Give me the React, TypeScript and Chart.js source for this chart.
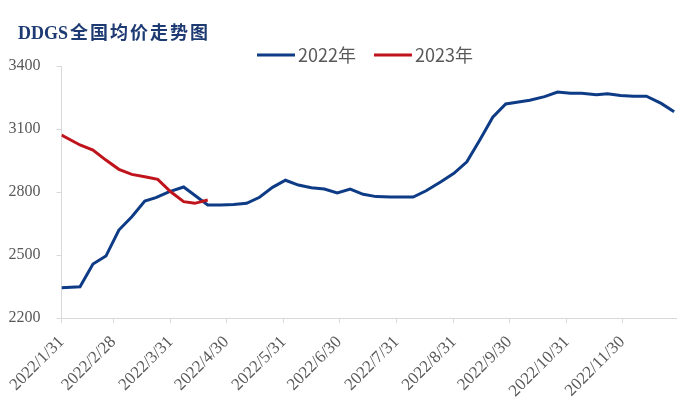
import React, { useEffect, useRef } from "react";
import { Chart, registerables } from "chart.js";

Chart.register(...registerables);

const TITLE = "DDGS全国均价走势图";
const seriesNames = ["2022年", "2023年"];
const seriesColors = ["#0E3B86", "#C0141C"];

// x = days after 2022/1/31 (2023 series aligned on the same calendar days)
const tickDays = [0, 28, 59, 89, 120, 150, 181, 212, 242, 273, 303];
const tickLabels = [
  "2022/1/31", "2022/2/28", "2022/3/31", "2022/4/30", "2022/5/31", "2022/6/30",
  "2022/7/31", "2022/8/31", "2022/9/30", "2022/10/31", "2022/11/30",
];

const days2022 = [
  0, 10, 17, 24, 31, 38, 45, 51, 58, 66,
  79, 86, 93, 100, 107, 114, 121, 128, 135, 142,
  149, 156, 163, 170, 178, 190, 197, 205, 212, 219,
  226, 233, 240, 246, 253, 261, 268, 275, 281, 289,
  295, 302, 309, 316, 324, 331,
];
const values2022 = [
  2344, 2349, 2457, 2495, 2619, 2682, 2757, 2773, 2801, 2824,
  2738, 2738, 2741, 2746, 2775, 2822, 2856, 2833, 2820, 2814,
  2795, 2814, 2789, 2778, 2776, 2776, 2806, 2849, 2889, 2944,
  3048, 3156, 3219, 3227, 3237, 3254, 3276, 3270, 3270, 3263,
  3268, 3260, 3256, 3256, 3222, 3182,
];

const days2023 = [0, 10, 17, 24, 31, 38, 45, 52, 59, 66, 72, 79];
const values2023 = [3071, 3024, 3000, 2952, 2908, 2884, 2873, 2860, 2801, 2754, 2746, 2762];

const yMin = 2200;
const yMax = 3400;
const yStep = 300;
const xMax = 332;

const SERIF = "'Times New Roman', 'Liberation Serif', serif";
const SANS = "'Microsoft YaHei', 'Noto Sans CJK SC', sans-serif";

const overlay = {
  id: "overlay",
  afterDraw(chart: any) {
    const ctx = chart.ctx;
    ctx.save();
    // title: latin part tight, CJK part with a little tracking
    ctx.font = `bold 18px 'Times New Roman', 'Liberation Serif', 'Noto Sans CJK SC', serif`;
    ctx.fillStyle = "#1E3A72";
    ctx.textAlign = "left";
    ctx.textBaseline = "alphabetic";
    const m = TITLE.match(/^([A-Za-z0-9]*)(.*)$/) || ["", "", TITLE];
    const latin = m[1];
    const rest = m[2];
    ctx.fillText(latin, 18, 39);
    const lw = ctx.measureText(latin).width;
    (ctx as any).letterSpacing = "2px";
    ctx.fillText(rest, 18 + lw + 2, 39);
    (ctx as any).letterSpacing = "0px";
    // legend
    ctx.font = `18px ${SANS}`;
    ctx.textBaseline = "middle";
    let x = 257;
    const y = 55;
    chart.data.datasets.forEach((ds: any) => {
      ctx.strokeStyle = ds.borderColor;
      ctx.lineWidth = 3;
      ctx.beginPath();
      ctx.moveTo(x, y);
      ctx.lineTo(x + 38, y);
      ctx.stroke();
      x += 41;
      ctx.fillStyle = "#595959";
      ctx.fillText(ds.label, x, y);
      x += ctx.measureText(ds.label).width + 18;
    });
    ctx.restore();
  },
};

export default function App() {
  const ref = useRef<HTMLCanvasElement>(null);
  useEffect(() => {
    document.body.style.margin = "0";
    const c = ref.current;
    if (!c) return;
    const chart = new Chart(c, {
      type: "line",
      data: {
        datasets: [
          {
            label: seriesNames[0],
            data: days2022.map((d, i) => ({ x: d, y: values2022[i] })),
            borderColor: seriesColors[0],
            backgroundColor: seriesColors[0],
            borderWidth: 3,
            pointRadius: 0,
            tension: 0,
            order: 1,
          },
          {
            label: seriesNames[1],
            data: days2023.map((d, i) => ({ x: d, y: values2023[i] })),
            borderColor: seriesColors[1],
            backgroundColor: seriesColors[1],
            borderWidth: 3,
            pointRadius: 0,
            tension: 0,
            order: 0,
          },
        ],
      },
      options: {
        animation: false,
        responsive: false,
        maintainAspectRatio: false,
        layout: { padding: { top: 66, right: 24, left: 0, bottom: 0 } },
        plugins: {
          legend: { display: false },
          title: { display: false },
          tooltip: { enabled: false },
        },
        scales: {
          x: {
            type: "linear",
            min: 0,
            max: xMax,
            afterFit: (s: any) => { s.height = 102; },
            afterBuildTicks: (s: any) => { s.ticks = tickDays.map((v) => ({ value: v })); },
            grid: { drawOnChartArea: false, drawTicks: true, tickLength: 5, color: "#d9d9d9" },
            border: { color: "#d9d9d9", width: 1 },
            ticks: {
              autoSkip: false,
              maxRotation: 45,
              minRotation: 45,
              padding: 9,
              color: "#595959",
              font: { family: SERIF, size: 17 },
              callback: (v: any) => {
                const i = tickDays.indexOf(Number(v));
                return i >= 0 ? tickLabels[i] : "";
              },
            },
          },
          y: {
            min: yMin,
            max: yMax,
            afterFit: (s: any) => { s.width = 61.5; },
            grid: { drawOnChartArea: false, drawTicks: true, tickLength: 5, color: "#d9d9d9" },
            border: { color: "#d9d9d9", width: 1 },
            ticks: {
              stepSize: yStep,
              padding: 16,
              color: "#595959",
              font: { family: SERIF, size: 16 },
              callback: (v: any) => String(v),
            },
          },
        },
      },
      plugins: [overlay],
    });
    return () => chart.destroy();
  }, []);
  return (
    <div style={{ width: 700, height: 420 }}>
      <canvas ref={ref} width={700} height={420} style={{ display: "block" }} />
    </div>
  );
}
